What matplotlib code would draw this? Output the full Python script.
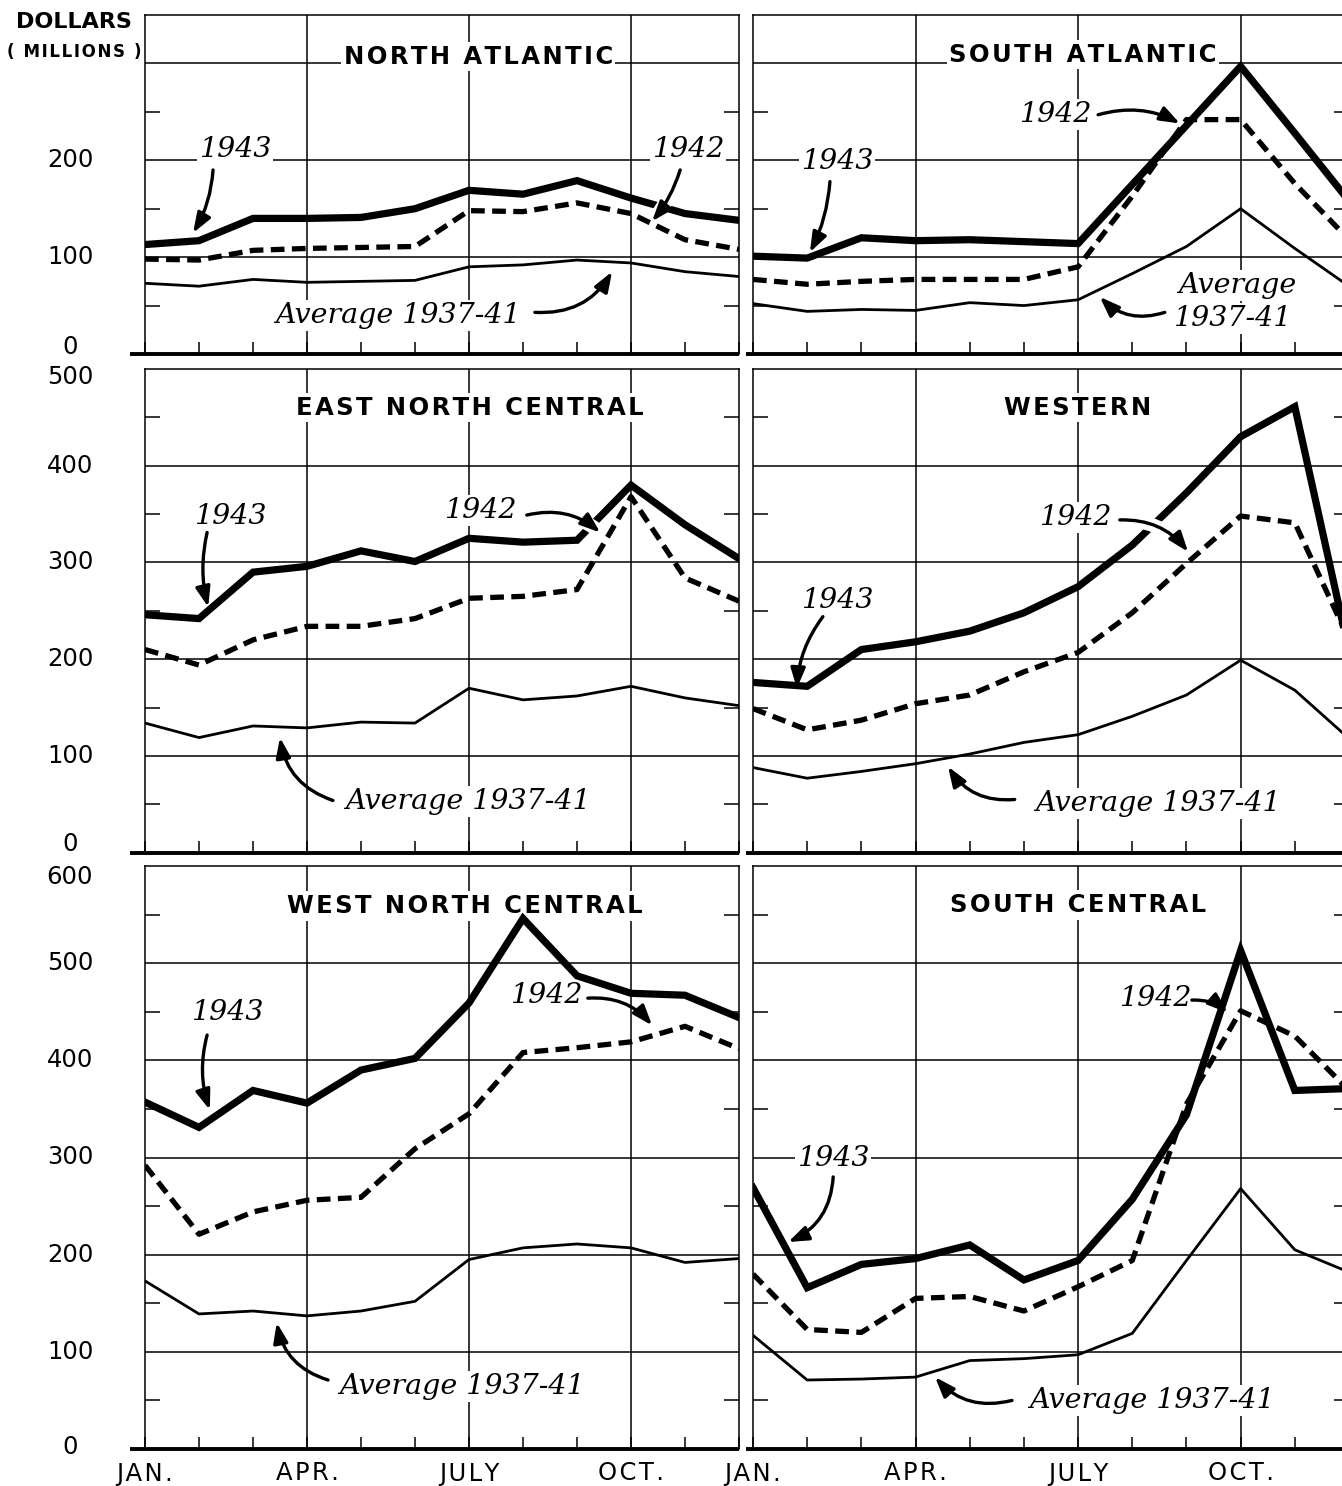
import matplotlib
matplotlib.use("Agg")
import matplotlib.pyplot as plt
from matplotlib.ticker import FixedLocator

# ---------------- data ----------------
months = list(range(12))
month_tick_pos = [0, 3, 6, 9]
month_labels = ["JAN.", "APR.", "JULY", "OCT."]

north_atlantic_1943 = [113, 117, 140, 140, 141, 150, 169, 165, 179, 161, 145, 138]
north_atlantic_1942 = [98, 97, 107, 109, 110, 111, 148, 147, 156, 145, 118, 108]
north_atlantic_avg = [73, 70, 77, 74, 75, 76, 90, 92, 97, 94, 85, 80]

south_atlantic_1943 = [101, 99, 120, 117, 118, 116, 114, 175, 236, 297, 228, 158]
south_atlantic_1942 = [77, 72, 75, 77, 77, 77, 90, 163, 242, 242, 176, 118]
south_atlantic_avg = [52, 44, 46, 45, 53, 50, 56, 83, 111, 150, 109, 70]

east_north_central_1943 = [246, 242, 290, 296, 312, 301, 325, 321, 323, 380, 339, 304]
east_north_central_1942 = [210, 194, 220, 234, 234, 242, 263, 265, 272, 368, 284, 260]
east_north_central_avg = [134, 119, 131, 129, 135, 134, 170, 158, 162, 172, 160, 152]

western_1943 = [176, 172, 210, 218, 229, 248, 275, 318, 372, 430, 461, 208]
western_1942 = [149, 127, 137, 154, 163, 187, 207, 248, 299, 348, 341, 220]
western_avg = [88, 77, 84, 92, 102, 114, 122, 141, 163, 199, 168, 118]

west_north_central_1943 = [357, 331, 369, 356, 390, 402, 459, 546, 487, 469, 467, 444]
west_north_central_1942 = [292, 221, 244, 256, 259, 309, 345, 408, 413, 419, 435, 412]
west_north_central_avg = [173, 139, 142, 137, 142, 152, 195, 207, 211, 207, 192, 196]

south_central_1943 = [269, 166, 190, 196, 210, 174, 194, 257, 344, 513, 369, 371]
south_central_1942 = [180, 123, 120, 155, 157, 142, 167, 194, 355, 451, 425, 369]
south_central_avg = [117, 71, 72, 74, 91, 93, 97, 119, 194, 268, 205, 182]

titles = ["NORTH ATLANTIC", "SOUTH ATLANTIC", "EAST NORTH CENTRAL",
          "WESTERN", "WEST NORTH CENTRAL", "SOUTH CENTRAL"]
series = [
    (north_atlantic_1943, north_atlantic_1942, north_atlantic_avg),
    (south_atlantic_1943, south_atlantic_1942, south_atlantic_avg),
    (east_north_central_1943, east_north_central_1942, east_north_central_avg),
    (western_1943, western_1942, western_avg),
    (west_north_central_1943, west_north_central_1942, west_north_central_avg),
    (south_central_1943, south_central_1942, south_central_avg),
]
row_tops = [350, 500, 600]

# ---------------- layout ----------------
W, H = 1342, 1486
fig = plt.figure(figsize=(W / 100, H / 100), dpi=100)
fig.patch.set_facecolor("white")

col_px = [(145, 739), (753, 1349)]               # Jan .. Dec pixel x
row_px = [(15, 354), (369, 852.7), (866, 1449)]  # top, bottom pixel y

HS = "\u200a"  # hair space for letter spacing


def px2pt(p):
    return p * 72.0 / 100.0


def spaced(t):
    return HS.join(list(t))


axes = []
for r in range(3):
    for c in range(2):
        x0, x1 = col_px[c]
        t, b = row_px[r]
        ax = fig.add_axes([x0 / W, 1 - b / H, (x1 - x0) / W, (b - t) / H])
        axes.append(ax)

thin = 1.1
for i, ax in enumerate(axes):
    r, c = divmod(i, 2)
    top = row_tops[r]
    ax.set_xlim(0, 11)
    ax.set_ylim(0, top)
    ax.set_facecolor("white")
    for s in ["left", "right", "top"]:
        ax.spines[s].set_linewidth(thin)
        ax.spines[s].set_color("black")
    ax.spines["bottom"].set_visible(False)
    ax.plot([-0.025 if c == 0 else -0.012, 1.0], [0, 0], transform=ax.transAxes,
            color="black", lw=2.8, clip_on=False, zorder=6, solid_capstyle="butt")
    # grid
    for v in range(100, top, 100):
        ax.axhline(v, color="black", lw=thin, zorder=1)
    for m in [3, 6, 9]:
        ax.axvline(m, color="black", lw=thin, zorder=1)
    # ticks
    ax.set_xticks(month_tick_pos)
    ax.xaxis.set_minor_locator(FixedLocator(months))
    ax.tick_params(axis="x", which="both", direction="in", length=9, width=thin,
                   top=False, bottom=True, color="black")
    if r == 2:
        ax.set_xticklabels([spaced(m) for m in month_labels], fontsize=17.5,
                           family="DejaVu Sans")
        ax.tick_params(axis="x", which="major", pad=9)
    else:
        ax.set_xticklabels([])
    ax.set_yticks(range(0, top + 1, 100))
    ax.set_yticklabels([])
    ax.yaxis.set_minor_locator(FixedLocator(list(range(50, top, 100))))
    ax.tick_params(axis="y", which="major", length=0)
    ax.tick_params(axis="y", which="minor", direction="in", length=11, width=thin,
                   left=True, right=True, color="black")

    y43, y42, yav = series[i]
    ax.plot(months, y43, color="black", lw=5.2, solid_joinstyle="miter", zorder=4)
    ax.plot(months, y42, color="black", lw=3.8, dashes=(2.6, 1.4), zorder=4)
    ax.plot(months, yav, color="black", lw=2.0, zorder=4)

    # y labels on left column
    if c == 0:
        for v in range(0, top + 1, 100):
            if r == 0 and v == 300:
                continue
            dy = 0
            if v == 0:
                dy = [7, 9, 2][r]
            elif v == top:
                dy = -[0, 8, 11][r]
            ax.annotate(str(v), xy=(0, v), xycoords=("axes fraction", "data"),
                        xytext=(-px2pt(75), px2pt(dy)), textcoords="offset points",
                        ha="center", va="center", fontsize=17.5, family="DejaVu Sans",
                        annotation_clip=False)

# titles
title_pos = [(6.17, 307), (6.09, 309), (6.02, 460), (6.0, 460), (5.93, 559), (6.0, 560)]
for ax, t, (mx, my) in zip(axes, titles, title_pos):
    ax.text(mx, my, spaced(t), ha="center", va="center", fontsize=17.5,
            fontweight="bold", family="DejaVu Sans", zorder=3,
            bbox=dict(fc="white", ec="none", pad=2))

# annotation labels: (panel, text, x, y)
labels = [
    (0, "1943", 1.67, 211), (0, "1942", 10.06, 211), (0, "Average 1937-41", 4.69, 40),
    (1, "1942", 5.57, 247), (1, "1943", 1.55, 199), (1, "Average", 8.93, 71), (1, "1937-41", 8.84, 37),
    (2, "1943", 1.57, 348), (2, "1942", 6.20, 354), (2, "Average 1937-41", 5.98, 53),
    (3, "1942", 5.94, 347), (3, "1943", 1.55, 261), (3, "Average 1937-41", 7.47, 51),
    (4, "1943", 1.52, 449), (4, "1942", 7.44, 467), (4, "Average 1937-41", 5.87, 64),
    (5, "1943", 1.48, 299), (5, "1942", 7.42, 464), (5, "Average 1937-41", 7.36, 50),
]
for p, s, x, y in labels:
    axes[p].text(x, y, s, ha="center", va="center", fontsize=20.5, style="italic",
                 family="DejaVu Serif", zorder=3,
                 bbox=dict(fc="white", ec="none", pad=1.5))

# arrows: (panel, start, end, rad, cut a gap in lines below)
arrows = [
    (0, (1.26, 190), (0.89, 125), -0.12, False),
    (0, (9.91, 190), (9.39, 137), -0.1, True),
    (0, (7.22, 43), (8.65, 85), 0.3, False),
    (1, (6.37, 247), (7.88, 238), -0.2, False),
    (1, (1.42, 178), (1.05, 105), -0.1, False),
    (1, (7.60, 43), (6.40, 59), -0.3, False),
    (2, (1.15, 331), (1.17, 254), 0.12, False),
    (2, (7.07, 349), (8.43, 331), -0.25, True),
    (2, (3.48, 54), (2.5, 119), -0.3, False),
    (3, (6.77, 344), (8.03, 311), -0.25, True),
    (3, (1.29, 244), (0.81, 170), 0.15, False),
    (3, (4.83, 55), (3.60, 89), -0.3, False),
    (4, (1.15, 426), (1.2, 349), 0.15, False),
    (4, (8.2, 464), (9.39, 436), -0.25, False),
    (4, (3.39, 71), (2.44, 130), -0.3, False),
    (5, (1.48, 280), (0.65, 213), -0.3, False),
    (5, (8.10, 462), (8.76, 449), -0.2, False),
    (5, (4.78, 50), (3.36, 74), -0.3, False),
]
for p, st, en, rad, gap in arrows:
    if gap:
        axes[p].annotate("", xy=en, xytext=st,
                         arrowprops=dict(arrowstyle="-", connectionstyle=f"arc3,rad={rad}",
                                         lw=10, color="white", shrinkA=0, shrinkB=5),
                         zorder=4.5)
    axes[p].annotate("", xy=en, xytext=st,
                     arrowprops=dict(arrowstyle="-|>,head_length=0.6,head_width=0.22",
                                     connectionstyle=f"arc3,rad={rad}", lw=2.4,
                                     color="black", shrinkA=0, shrinkB=0,
                                     mutation_scale=20),
                     zorder=5)

fig.text(74 / W, 1 - 22 / H, "DOLLARS", ha="center", va="center", fontsize=16,
         fontweight="bold", family="DejaVu Sans")
fig.text(74 / W, 1 - 52 / H, spaced("( MILLIONS )"), ha="center", va="center",
         fontsize=12, fontweight="bold", family="DejaVu Sans")

fig.savefig("out.png", dpi=100, facecolor="white")
